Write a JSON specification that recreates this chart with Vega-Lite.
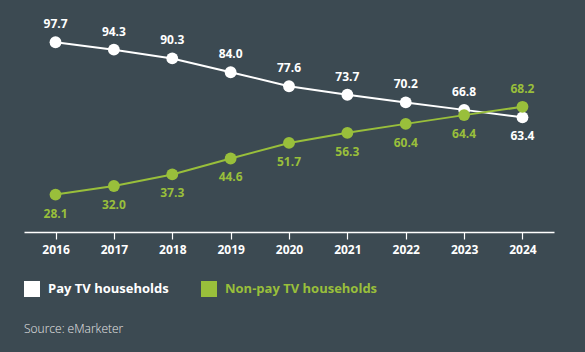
{
  "$schema": "https://vega.github.io/schema/vega-lite/v6.json",
  "width": 530,
  "height": 232,
  "autosize": "none",
  "padding": {"left": 24, "top": 0, "right": 31, "bottom": 120},
  "background": "#3c4a52",
  "title": {
    "text": "Source: eMarketer",
    "orient": "bottom",
    "anchor": "start",
    "frame": "group",
    "offset": 27,
    "font": "Open Sans",
    "fontSize": 12,
    "fontWeight": 300,
    "color": "#e6e6e6"
  },
  "config": {
    "view": {"stroke": null},
    "font": "Open Sans"
  },
  "data": {
    "values": [
      {"year": 2016, "series": "Pay TV households", "value": 97.7},
      {"year": 2017, "series": "Pay TV households", "value": 94.3},
      {"year": 2018, "series": "Pay TV households", "value": 90.3},
      {"year": 2019, "series": "Pay TV households", "value": 84.0},
      {"year": 2020, "series": "Pay TV households", "value": 77.6},
      {"year": 2021, "series": "Pay TV households", "value": 73.7},
      {"year": 2022, "series": "Pay TV households", "value": 70.2},
      {"year": 2023, "series": "Pay TV households", "value": 66.8},
      {"year": 2024, "series": "Pay TV households", "value": 63.4},
      {"year": 2016, "series": "Non-pay TV households", "value": 28.1},
      {"year": 2017, "series": "Non-pay TV households", "value": 32.0},
      {"year": 2018, "series": "Non-pay TV households", "value": 37.3},
      {"year": 2019, "series": "Non-pay TV households", "value": 44.6},
      {"year": 2020, "series": "Non-pay TV households", "value": 51.7},
      {"year": 2021, "series": "Non-pay TV households", "value": 56.3},
      {"year": 2022, "series": "Non-pay TV households", "value": 60.4},
      {"year": 2023, "series": "Non-pay TV households", "value": 64.4},
      {"year": 2024, "series": "Non-pay TV households", "value": 68.2}
    ]
  },
  "encoding": {
    "x": {
      "field": "year",
      "type": "ordinal",
      "scale": {"type": "point", "padding": 0.54},
      "axis": {
        "title": null,
        "labelAngle": 0,
        "domainColor": "#ffffff",
        "domainWidth": 1.5,
        "tickColor": "#ffffff",
        "tickWidth": 1.2,
        "tickSize": 7,
        "labelColor": "#ffffff",
        "labelFont": "Open Sans",
        "labelFontSize": 12,
        "labelFontWeight": "bold",
        "labelPadding": 5,
        "grid": false
      }
    },
    "y": {
      "field": "value",
      "type": "quantitative",
      "scale": {"domain": [11, 117], "nice": false, "zero": false},
      "axis": null
    },
    "color": {
      "field": "series",
      "type": "nominal",
      "scale": {
        "domain": ["Pay TV households", "Non-pay TV households"],
        "range": ["#ffffff", "#99bf3b"]
      },
      "legend": {
        "title": null,
        "orient": "none",
        "legendX": 0,
        "legendY": 281,
        "direction": "horizontal",
        "symbolType": "square",
        "symbolSize": 256,
        "symbolStrokeWidth": 0,
        "symbolOpacity": 1,
        "labelFont": "Open Sans",
        "labelFontSize": 13,
        "labelFontWeight": "bold",
        "labelOffset": 8,
        "columnPadding": 32,
        "padding": 0,
        "labelLimit": 300,
        "encode": {
          "symbols": {
            "update": {
              "fill": {"signal": "datum.value === 'Pay TV households' ? '#ffffff' : '#99bf3b'"},
              "strokeWidth": {"value": 0},
              "opacity": {"value": 1}
            }
          },
          "labels": {
            "update": {
              "fill": {"signal": "datum.value === 'Pay TV households' ? '#ffffff' : '#99bf3b'"}
            }
          }
        }
      }
    }
  },
  "layer": [
    {
      "mark": {"type": "line", "strokeWidth": 2}
    },
    {
      "mark": {"type": "point", "filled": true, "opacity": 1, "size": 140}
    },
    {
      "transform": [
        {"filter": "(datum.series === 'Pay TV households' && datum.year !== 2024) || (datum.series === 'Non-pay TV households' && datum.year === 2024)"}
      ],
      "mark": {"type": "text", "dy": -18, "font": "Open Sans", "fontSize": 12, "fontWeight": "bold"},
      "encoding": {
        "text": {"field": "value", "type": "quantitative", "format": ".1f"}
      }
    },
    {
      "transform": [
        {"filter": "(datum.series === 'Non-pay TV households' && datum.year !== 2024) || (datum.series === 'Pay TV households' && datum.year === 2024)"}
      ],
      "mark": {"type": "text", "dy": 19, "font": "Open Sans", "fontSize": 12, "fontWeight": "bold"},
      "encoding": {
        "text": {"field": "value", "type": "quantitative", "format": ".1f"}
      }
    }
  ]
}
